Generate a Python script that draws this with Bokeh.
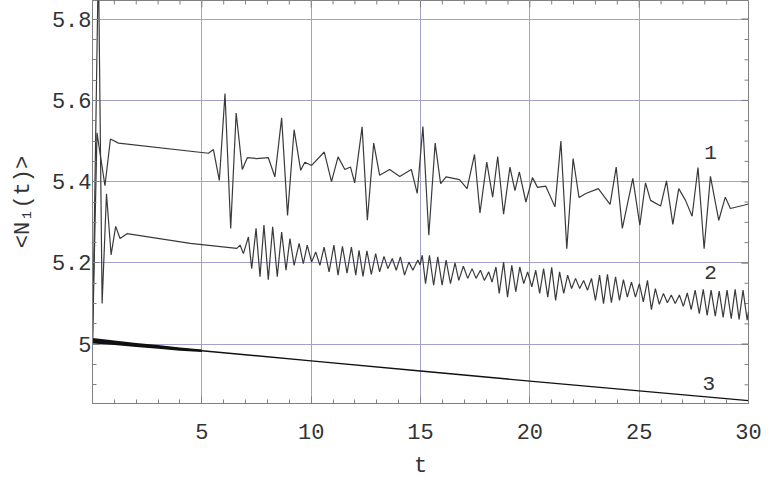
from bokeh.plotting import figure, ColumnDataSource
from bokeh.models import FixedTicker, LinearAxis, Range1d, Grid
from bokeh.core.properties import value
from bokeh.embed import file_html
from bokeh.resources import INLINE

# ---- data ----
c1_t = [0.0, 0.205, 0.57, 0.82, 1.19, 5.30, 5.53, 5.80, 6.06, 6.32, 6.57, 6.85, 7.08, 7.51, 8.04,
        8.34, 8.65, 8.92, 9.22, 9.52, 9.71, 10.02, 10.60, 10.93, 11.23, 11.54, 11.80, 11.99, 12.33,
        12.57, 12.86, 13.13, 13.59, 14.05, 14.58, 14.85, 15.11, 15.38, 15.67, 15.92, 16.17, 16.78,
        17.13, 17.47, 17.72, 18.03, 18.30, 18.53, 18.80, 19.09, 19.32, 19.52, 19.82, 20.12, 20.35,
        20.73, 21.15, 21.42, 21.69, 21.98, 22.25, 22.56, 23.13, 23.67, 23.95, 24.23, 24.71, 25.03,
        25.29, 25.52, 25.98, 26.25, 26.54, 26.81, 27.12, 27.42, 27.69, 27.97, 28.26, 28.64, 28.94,
        29.17, 29.78, 30.0]
c1_v = [5.0, 5.52, 5.39, 5.505, 5.495, 5.47, 5.479, 5.403, 5.617, 5.285, 5.569, 5.43, 5.459, 5.457,
        5.459, 5.412, 5.557, 5.317, 5.528, 5.428, 5.448, 5.44, 5.473, 5.40, 5.461, 5.43, 5.436, 5.397,
        5.535, 5.305, 5.495, 5.416, 5.43, 5.413, 5.43, 5.371, 5.536, 5.268, 5.495, 5.395, 5.412, 5.405,
        5.383, 5.467, 5.323, 5.448, 5.362, 5.462, 5.32, 5.436, 5.378, 5.424, 5.35, 5.41, 5.386, 5.389,
        5.338, 5.50, 5.235, 5.457, 5.361, 5.371, 5.383, 5.344, 5.436, 5.285, 5.408, 5.293, 5.397,
        5.354, 5.34, 5.402, 5.295, 5.383, 5.354, 5.315, 5.435, 5.235, 5.413, 5.305, 5.362, 5.334,
        5.342, 5.345]

c2_t = [0.0, 0.27, 0.44, 0.64, 0.85, 1.06, 1.26, 1.58, 4.47, 6.60,
        6.75, 6.90, 7.13, 7.28, 7.48, 7.66, 7.84, 8.04, 8.24, 8.45,
        8.65, 8.85, 9.03, 9.22, 9.45, 9.64, 9.82, 10.02, 10.21, 10.40,
        10.59, 10.82, 11.04, 11.23, 11.43, 11.64, 11.84, 12.04, 12.19, 12.37,
        12.55, 12.75, 12.95, 13.13, 13.33, 13.51, 13.71, 13.89, 14.08, 14.27,
        14.47, 14.65, 14.88, 14.98, 15.08, 15.23, 15.41, 15.60, 15.79, 15.99,
        16.17, 16.37, 16.58, 16.75, 16.96, 17.16, 17.36, 17.54, 17.74, 17.92,
        18.12, 18.27, 18.45, 18.60, 18.80, 18.98, 19.175, 19.357, 19.54, 19.72,
        19.90, 20.09, 20.27, 20.45, 20.63, 20.82, 21.00, 21.18, 21.36, 21.55,
        21.73, 21.91, 22.09, 22.28, 22.46, 22.64, 22.82, 23.00, 23.19, 23.37,
        23.55, 23.73, 23.92, 24.10, 24.28, 24.46, 24.65, 24.83, 25.01, 25.19,
        25.38, 25.56, 25.74, 25.92, 26.11, 26.29, 26.47, 26.65, 26.84, 27.02,
        27.20, 27.38, 27.56, 27.75, 27.93, 28.11, 28.29, 28.48, 28.66, 28.84,
        29.02, 29.21, 29.39, 29.57, 29.75, 29.94, 30.0]
c2_v = [5.0, 5.95, 5.10, 5.37, 5.22, 5.29, 5.26, 5.272, 5.248, 5.236,
        5.244, 5.223, 5.264, 5.186, 5.285, 5.166, 5.293, 5.159, 5.289, 5.166,
        5.276, 5.182, 5.26, 5.194, 5.248, 5.198, 5.244, 5.202, 5.227, 5.194,
        5.239, 5.178, 5.244, 5.17, 5.241, 5.175, 5.239, 5.17, 5.231, 5.167,
        5.23, 5.172, 5.223, 5.178, 5.216, 5.186, 5.211, 5.182, 5.215, 5.17,
        5.202, 5.182, 5.207, 5.195, 5.219, 5.149, 5.219, 5.145, 5.215, 5.145,
        5.207, 5.149, 5.20, 5.157, 5.192, 5.162, 5.186, 5.162, 5.182, 5.157,
        5.178, 5.153, 5.19, 5.125, 5.202, 5.116, 5.194, 5.129, 5.19, 5.149,
        5.178, 5.141, 5.182, 5.125, 5.186, 5.116, 5.189, 5.108, 5.178, 5.125,
        5.17, 5.137, 5.162, 5.137, 5.157, 5.133, 5.162, 5.108, 5.17, 5.10,
        5.172, 5.102, 5.166, 5.108, 5.159, 5.116, 5.153, 5.116, 5.149, 5.104,
        5.157, 5.085, 5.137, 5.098, 5.125, 5.102, 5.121, 5.10, 5.121, 5.093,
        5.126, 5.085, 5.133, 5.075, 5.135, 5.071, 5.133, 5.069, 5.131, 5.066,
        5.133, 5.063, 5.135, 5.061, 5.133, 5.059, 5.08]

c3_t = [0, 5, 10, 15, 20, 25, 30]
c3_v = [5.008, 4.984, 4.959, 4.934, 4.909, 4.885, 4.861]
band_t = [0, 1, 2, 3, 4, 5]
band_hi = [5.015, 5.009, 5.003, 4.998, 4.992, 4.987]
band_lo = [5.002, 4.998, 4.993, 4.989, 4.984, 4.981]

lab_text = ["1", "2", "3"]
lab_t = [28.27, 28.27, 28.18]
lab_v = [5.472, 5.177, 4.904]

x_major = [5, 10, 15, 20, 25, 30]
x_minor = [i for i in range(0, 31) if i % 5 != 0]
y_major = [5.0, 5.2, 5.4, 5.6, 5.8]
y_minor = [round(4.85 + 0.05 * i, 2) for i in range(0, 20)]
y_labels = {5.0: "5", 5.2: "5.2", 5.4: "5.4", 5.6: "5.6", 5.8: "5.8"}

FONT = "Liberation Mono"
GRID = "#a3a3c8"
FRAME = "#808080"
X0, X1 = 0, 30
Y0, Y1 = 4.854, 5.846
FW, FH = 656, 403

p = figure(frame_width=FW, frame_height=FH,
           min_border_left=92, min_border_right=20, min_border_top=0, min_border_bottom=75,
           x_range=Range1d(X0, X1), y_range=Range1d(Y0, Y1),
           x_axis_location=None, y_axis_location=None,
           output_backend="svg", toolbar_location=None,
           background_fill_color="white", border_fill_color="white")

xt = FixedTicker(ticks=x_major, minor_ticks=x_minor)
yt = FixedTicker(ticks=y_major, minor_ticks=y_minor)

p.add_layout(Grid(dimension=0, ticker=xt, grid_line_color=GRID, grid_line_width=1))
p.add_layout(Grid(dimension=1, ticker=yt, grid_line_color=GRID, grid_line_width=1))

xax = LinearAxis(ticker=xt, axis_label="t")
yax = LinearAxis(ticker=yt, axis_label="<N\u2081(t)>", major_label_overrides=y_labels)
p.add_layout(xax, "below")
p.add_layout(yax, "left")

for ax in [xax, yax]:
    ax.axis_line_color = FRAME
    ax.major_tick_line_color = FRAME
    ax.minor_tick_line_color = FRAME
    ax.major_tick_in = 7
    ax.major_tick_out = 0
    ax.minor_tick_in = 4
    ax.minor_tick_out = 0
    ax.major_label_text_font = FONT
    ax.major_label_text_font_size = "22px"
    ax.major_label_text_color = "#333333"
    ax.axis_label_text_font = FONT
    ax.axis_label_text_font_size = "22px"
    ax.axis_label_text_font_style = "normal"
    ax.axis_label_text_color = "#333333"

xax.major_label_standoff = 20
xax.axis_label_standoff = 12
yax.major_label_standoff = 1
yax.axis_label_standoff = 13

p.outline_line_color = FRAME

# tick marks on the top and right edges of the frame (Mathematica-style frame ticks)
px_per_x = FW / (X1 - X0)
px_per_y = FH / (Y1 - Y0)
tx = x_major + x_minor
tlen_x = [7 / px_per_y if t in x_major else 4 / px_per_y for t in tx]
p.segment(x0=tx, y0=[Y1] * len(tx), x1=tx, y1=[Y1 - l for l in tlen_x], line_color=FRAME, line_width=1)
ty = y_major + y_minor
tlen_y = [7 / px_per_x if t in y_major else 4 / px_per_x for t in ty]
p.segment(x0=[X1] * len(ty), y0=ty, x1=[X1 - l for l in tlen_y], y1=ty, line_color=FRAME, line_width=1)

p.varea(x=band_t, y1=band_lo, y2=band_hi, fill_color="#111111")
p.line(c3_t, c3_v, line_color="#111111", line_width=1.4)
p.line(c1_t, c1_v, line_color="#3a3a3a", line_width=1.2)
p.line(c2_t, c2_v, line_color="#3a3a3a", line_width=1.2)

src = ColumnDataSource(dict(x=lab_t, y=lab_v, t=lab_text))
p.text(x="x", y="y", text="t", source=src, text_font=value(FONT), text_font_size="21px",
       text_color="#333333", text_align="center", text_baseline="middle")

open("out.html", "w").write(file_html(p, INLINE))
